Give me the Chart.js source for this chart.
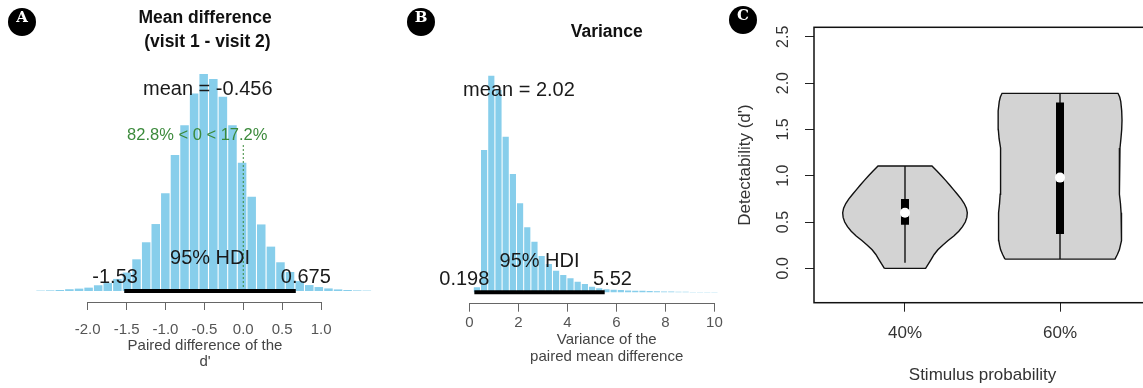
<!DOCTYPE html>
<html>
<head>
<meta charset="utf-8">
<title>Posterior of d' difference and variance, detectability by stimulus probability</title>
<script src="https://cdn.jsdelivr.net/npm/chart.js@4.4.1/dist/chart.umd.min.js"></script>
<style>
  html, body { margin: 0; padding: 0; background: #fff; width: 1143px; height: 388px; overflow: hidden; }
  .panel { position: absolute; top: 0; }
  .badge {
    position: absolute; width: 28px; height: 28px; border-radius: 50%;
    background: #000; color: #fff; text-align: center; line-height: 28px;
    font: bold 15px 'DejaVu Serif', 'Liberation Serif', serif;
  }
</style>
</head>
<body>
<canvas id="chartA" class="panel" width="380" height="388" style="left:0"></canvas>
<canvas id="chartB" class="panel" width="400" height="388" style="left:380px"></canvas>
<canvas id="chartC" class="panel" width="440" height="388" style="left:720px"></canvas>
<div class="badge" style="left:8px;top:8px">A</div>
<div class="badge" style="left:407px;top:8px">B</div>
<div class="badge" style="left:729px;top:6px">C</div>

<script>
// Panel A: posterior of the paired difference of d' (bin centres, % of samples)
var diffBins = [-2.605, -2.482, -2.358, -2.235, -2.111, -1.988, -1.865, -1.742, -1.618, -1.495,
  -1.372, -1.248, -1.125, -1.002, -0.878, -0.755, -0.632, -0.509, -0.385, -0.262,
  -0.139, -0.015, 0.108, 0.231, 0.355, 0.478, 0.601, 0.725, 0.848, 0.971,
  1.095, 1.218, 1.341, 1.464, 1.588];
var diffPct = [0.02, 0.03, 0.05, 0.09, 0.12, 0.17, 0.29, 0.40, 0.61, 0.93,
  1.60, 2.46, 3.38, 4.93, 6.86, 8.37, 9.97, 10.95, 10.70, 9.80,
  8.37, 6.47, 4.76, 3.36, 2.24, 1.45, 0.96, 0.50, 0.30, 0.20,
  0.13, 0.08, 0.05, 0.03, 0.02];
var diffMean = -0.456;
var diffHdi = [-1.53, 0.675];
var diffBelowZero = 0.828;
var diffTicks = [-2, -1.5, -1, -0.5, 0, 0.5, 1];

// Panel B: posterior of the variance of the paired mean difference
var varBins = [0.302, 0.596, 0.890, 1.184, 1.478, 1.772, 2.065, 2.359, 2.653, 2.947,
  3.241, 3.535, 3.829, 4.123, 4.417, 4.711, 5.004, 5.298, 5.592, 5.886,
  6.180, 6.474, 6.768, 7.062, 7.356, 7.650, 7.943, 8.237, 8.531, 8.825,
  9.119, 9.413, 9.707, 10.001];
var varPct = [0.41, 11.76, 17.90, 16.72, 12.86, 9.78, 7.36, 5.37, 4.18, 3.00,
  2.34, 1.79, 1.43, 1.16, 0.88, 0.69, 0.46, 0.33, 0.25, 0.21,
  0.18, 0.15, 0.13, 0.12, 0.10, 0.08, 0.07, 0.07, 0.05, 0.04,
  0.03, 0.03, 0.02, 0.02];
var varMean = 2.02;
var varHdi = [0.198, 5.52];
var varTicks = [0, 2, 4, 6, 8, 10];

// Panel C: violin plots of d' by stimulus probability
var groups = ['40%', '60%'];
var violinLevels40 = [0.00, 0.05, 0.10, 0.15, 0.20, 0.25, 0.30, 0.35, 0.40, 0.45, 0.50, 0.55,
  0.60, 0.65, 0.70, 0.75, 0.80, 0.85, 0.90, 0.95, 1.00, 1.05, 1.105];
var violinWidths40 = [0.133, 0.152, 0.170, 0.188, 0.212, 0.243, 0.278, 0.315, 0.347, 0.371, 0.389, 0.399,
  0.402, 0.396, 0.382, 0.362, 0.338, 0.313, 0.288, 0.262, 0.235, 0.206, 0.174];
var violinLevels60 = [0.10, 0.15, 0.20, 0.25, 0.30, 0.40, 0.50, 0.60, 0.70, 0.80, 0.90,
  1.00, 1.10, 1.20, 1.30, 1.40, 1.50, 1.60, 1.70, 1.80, 1.85, 1.89];
var violinWidths60 = [0.355, 0.370, 0.383, 0.390, 0.395, 0.398, 0.397, 0.394, 0.390, 0.386, 0.383,
  0.382, 0.382, 0.383, 0.387, 0.393, 0.398, 0.400, 0.398, 0.392, 0.385, 0.374];
var whiskerLow = [0.06, 0.10];
var whiskerHigh = [1.105, 1.89];
var boxLow = [0.47, 0.37];
var boxHigh = [0.75, 1.79];
var medians = [0.60, 0.98];
var dTicks = [0, 0.5, 1, 1.5, 2, 2.5];

var FONT = "'Liberation Sans', Arial, Helvetica, sans-serif";
Chart.defaults.font.family = FONT;
Chart.defaults.animation = false;
Chart.defaults.events = [];
Chart.defaults.plugins.legend.display = false;
Chart.defaults.plugins.tooltip.enabled = false;

function decorPlugin(cfg) {
  return {
    id: 'decor',
    afterDatasetsDraw: function (chart) {
      var ctx = chart.ctx;
      var xs = chart.scales.x;
      var ys = chart.scales.y;
      (cfg.labels || []).forEach(function (t) {
        ctx.save();
        ctx.font = t.font;
        ctx.fillStyle = t.color || '#111';
        ctx.textAlign = 'left';
        ctx.textBaseline = 'middle';
        var w = ctx.measureText(t.text).width;
        var adj = t.adj === undefined ? 0.5 : t.adj;
        ctx.fillText(t.text, xs.getPixelForValue(t.x) - adj * w, ys.getPixelForValue(t.y));
        ctx.restore();
      });
    },
    afterDraw: function (chart) {
      var ctx = chart.ctx;
      var area = chart.chartArea;
      var xs = chart.scales.x;
      ctx.save();
      if (cfg.axisFrom !== undefined) {
        var yy = Math.round(area.bottom) + 0.5;
        ctx.strokeStyle = '#666';
        ctx.lineWidth = 1;
        ctx.beginPath();
        ctx.moveTo(xs.getPixelForValue(cfg.axisFrom), yy);
        ctx.lineTo(xs.getPixelForValue(cfg.axisTo), yy);
        ctx.stroke();
      }
      if (cfg.frame) {
        ctx.strokeStyle = '#111';
        ctx.lineWidth = 1.5;
        ctx.strokeRect(area.left, area.top, area.right - area.left, area.bottom - area.top);
      }
      ctx.restore();
    }
  };
}

function histPoints(bins, values) {
  return bins.map(function (b, i) {
    return { x: b, y: values[i] };
  });
}

function fixedTicks(list) {
  return function (scale) {
    scale.ticks = list.map(function (v) { return { value: v }; });
  };
}

function histAxis(min, max, ticks, height, tickLen, pad, title, titleLine, titlePad, digits) {
  return {
    type: 'linear',
    min: min,
    max: max,
    offset: false,
    afterBuildTicks: fixedTicks(ticks),
    afterFit: function (scale) { scale.height = height; },
    grid: { drawOnChartArea: false, drawTicks: true, tickLength: tickLen, color: '#666', offset: false },
    border: { display: false },
    ticks: {
      color: '#555', font: { size: 15 }, padding: pad, autoSkip: false, maxRotation: 0,
      callback: function (v) { return Number(v).toFixed(digits); }
    },
    title: {
      display: true, text: title, color: '#444',
      font: { size: 15, lineHeight: titleLine / 15 },
      padding: { top: 0, bottom: titlePad }
    }
  };
}

// ---- Panel A
new Chart(document.getElementById('chartA'), {
  type: 'bar',
  data: {
    datasets: [{
      type: 'line',
      data: [{ x: diffHdi[0], y: 0 }, { x: diffHdi[1], y: 0 }],
      borderColor: '#000', borderWidth: 4, borderCapStyle: 'butt', pointRadius: 0, fill: false, order: 1
    }, {
      type: 'line',
      data: [{ x: 0, y: 0 }, { x: 0, y: 7.37 }],
      borderColor: '#3b8a3b', borderWidth: 1, borderDash: [2, 2], pointRadius: 0, fill: false, order: 2
    }, {
      type: 'bar',
      data: histPoints(diffBins, diffPct),
      backgroundColor: '#87ceeb', barPercentage: 0.89, categoryPercentage: 1, order: 3
    }]
  },
  options: {
    responsive: false,
    devicePixelRatio: 1,
    layout: { padding: { left: 35, right: 5, top: 6, bottom: 0 } },
    plugins: {
      title: {
        display: true, text: ['Mean difference', ' (visit 1 - visit 2)'], color: '#111',
        font: { size: 17.5, weight: 'bold', lineHeight: 24 / 17.5 },
        padding: { top: 0, bottom: 6 }
      }
    },
    scales: {
      x: histAxis(-2.677, 1.693, diffTicks, 86, 8, 11, ['Paired difference of the', "d'"], 16, 18.3, 1),
      y: { display: false, min: -0.555, max: 11.66 }
    }
  },
  plugins: [decorPlugin({
    axisFrom: diffTicks[0],
    axisTo: diffTicks[diffTicks.length - 1],
    labels: [
      { text: 'mean = ' + diffMean, x: diffMean, y: 10.19, font: '20px ' + FONT, color: '#1a1a1a' },
      { text: (diffBelowZero * 100).toFixed(1) + '% < 0 < ' + ((1 - diffBelowZero) * 100).toFixed(1) + '%',
        x: 0, y: 7.87, adj: diffBelowZero, font: '16.5px ' + FONT, color: '#3b8a3b' },
      { text: '95% HDI', x: (diffHdi[0] + diffHdi[1]) / 2, y: 1.665, font: '20px ' + FONT, color: '#1a1a1a' },
      { text: String(diffHdi[0]), x: diffHdi[0], y: 0.66, adj: 0.7, font: '20px ' + FONT, color: '#1a1a1a' },
      { text: String(diffHdi[1]), x: diffHdi[1], y: 0.66, adj: 0.3, font: '20px ' + FONT, color: '#1a1a1a' }
    ]
  })]
});

// ---- Panel B
new Chart(document.getElementById('chartB'), {
  type: 'bar',
  data: {
    datasets: [{
      type: 'line',
      data: [{ x: varHdi[0], y: 0 }, { x: varHdi[1], y: 0 }],
      borderColor: '#000', borderWidth: 4, borderCapStyle: 'butt', pointRadius: 0, fill: false, order: 1
    }, {
      type: 'bar',
      data: histPoints(varBins, varPct),
      backgroundColor: '#87ceeb', barPercentage: 0.86, categoryPercentage: 1, order: 2
    }]
  },
  options: {
    responsive: false,
    devicePixelRatio: 1,
    layout: { padding: { left: 70, right: 16.6, top: 19.7, bottom: 0 } },
    plugins: {
      title: {
        display: true, text: 'Variance', color: '#111',
        font: { size: 17.5, weight: 'bold', lineHeight: 24 / 17.5 },
        padding: { top: 0, bottom: 16.3 }
      }
    },
    scales: {
      x: histAxis(-0.796, 12.0, varTicks, 85.3, 9, 2.6, ['Variance of the', 'paired mean difference'], 17, 22.8, 0),
      y: { display: false, min: -0.86, max: 19.2 }
    }
  },
  plugins: [decorPlugin({
    axisFrom: varTicks[0],
    axisTo: varTicks[varTicks.length - 1],
    labels: [
      { text: 'mean = ' + varMean, x: varMean, y: 16.66, font: '20px ' + FONT, color: '#1a1a1a' },
      { text: '95% HDI', x: (varHdi[0] + varHdi[1]) / 2, y: 2.53, font: '20px ' + FONT, color: '#1a1a1a' },
      { text: String(varHdi[0]), x: varHdi[0], y: 1.02, adj: 0.7, font: '20px ' + FONT, color: '#1a1a1a' },
      { text: String(varHdi[1]), x: varHdi[1], y: 1.02, adj: 0.3, font: '20px ' + FONT, color: '#1a1a1a' }
    ]
  })]
});

// ---- Panel C
function violinOutline(center, levels, widths) {
  var pts = [];
  for (var i = 0; i < levels.length; i++) {
    pts.push({ x: center - widths[i], y: levels[i] });
  }
  for (var j = levels.length - 1; j >= 0; j--) {
    pts.push({ x: center + widths[j], y: levels[j] });
  }
  pts.push({ x: center - widths[0], y: levels[0] });
  return pts;
}

var violinLevels = [violinLevels40, violinLevels60];
var violinWidths = [violinWidths40, violinWidths60];
var cSets = [];
groups.forEach(function (name, i) {
  var pos = i + 1;
  cSets.push({
    data: violinOutline(pos, violinLevels[i], violinWidths[i]),
    fill: 'shape', backgroundColor: '#d3d3d3', borderColor: '#111', borderWidth: 1.4,
    pointRadius: 0, order: 4
  });
  cSets.push({
    data: [{ x: pos, y: whiskerLow[i] }, { x: pos, y: whiskerHigh[i] }],
    borderColor: '#111', borderWidth: 1.4, pointRadius: 0, fill: false, order: 3
  });
  cSets.push({
    data: [{ x: pos, y: boxLow[i] }, { x: pos, y: boxHigh[i] }],
    borderColor: '#000', borderWidth: 8, borderCapStyle: 'butt', pointRadius: 0, fill: false, order: 2
  });
  cSets.push({
    data: [{ x: pos, y: medians[i] }],
    showLine: false, pointRadius: 5, pointBackgroundColor: '#fff', pointBorderColor: '#fff',
    pointBorderWidth: 0, fill: false, order: 1
  });
});

new Chart(document.getElementById('chartC'), {
  type: 'line',
  data: { datasets: cSets },
  options: {
    responsive: false,
    devicePixelRatio: 1,
    layout: { padding: { left: 0, right: 9, top: 27.3, bottom: 0 } },
    scales: {
      x: {
        type: 'linear', min: 0.413, max: 2.587,
        afterBuildTicks: function (scale) {
          scale.ticks = groups.map(function (g, i) { return { value: i + 1 }; });
        },
        afterFit: function (scale) { scale.height = 85.3; },
        grid: { drawOnChartArea: false, tickLength: 9, color: '#222' },
        border: { display: false },
        ticks: {
          color: '#333', font: { size: 17 }, padding: 11.4, autoSkip: false, maxRotation: 0,
          callback: function (v) { return groups[Math.round(v) - 1]; }
        },
        title: {
          display: true, text: 'Stimulus probability', color: '#333',
          font: { size: 17, lineHeight: 1 }, padding: { top: 0, bottom: 4.5 }
        }
      },
      y: {
        min: -0.371, max: 2.603,
        afterBuildTicks: fixedTicks(dTicks),
        afterFit: function (scale) { scale.width = 94; },
        grid: { drawOnChartArea: false, tickLength: 9, color: '#222' },
        border: { display: false },
        ticks: {
          color: '#333', font: { size: 16 }, padding: 10.6, minRotation: 90, maxRotation: 90,
          crossAlign: 'center',
          callback: function (v) { return Number(v).toFixed(1); }
        },
        title: {
          display: true, text: "Detectability (d')", color: '#333',
          font: { size: 17, lineHeight: 1 }, padding: { top: 16.5, bottom: 0 }
        }
      }
    }
  },
  plugins: [decorPlugin({ frame: true })]
});
</script>
</body>
</html>
